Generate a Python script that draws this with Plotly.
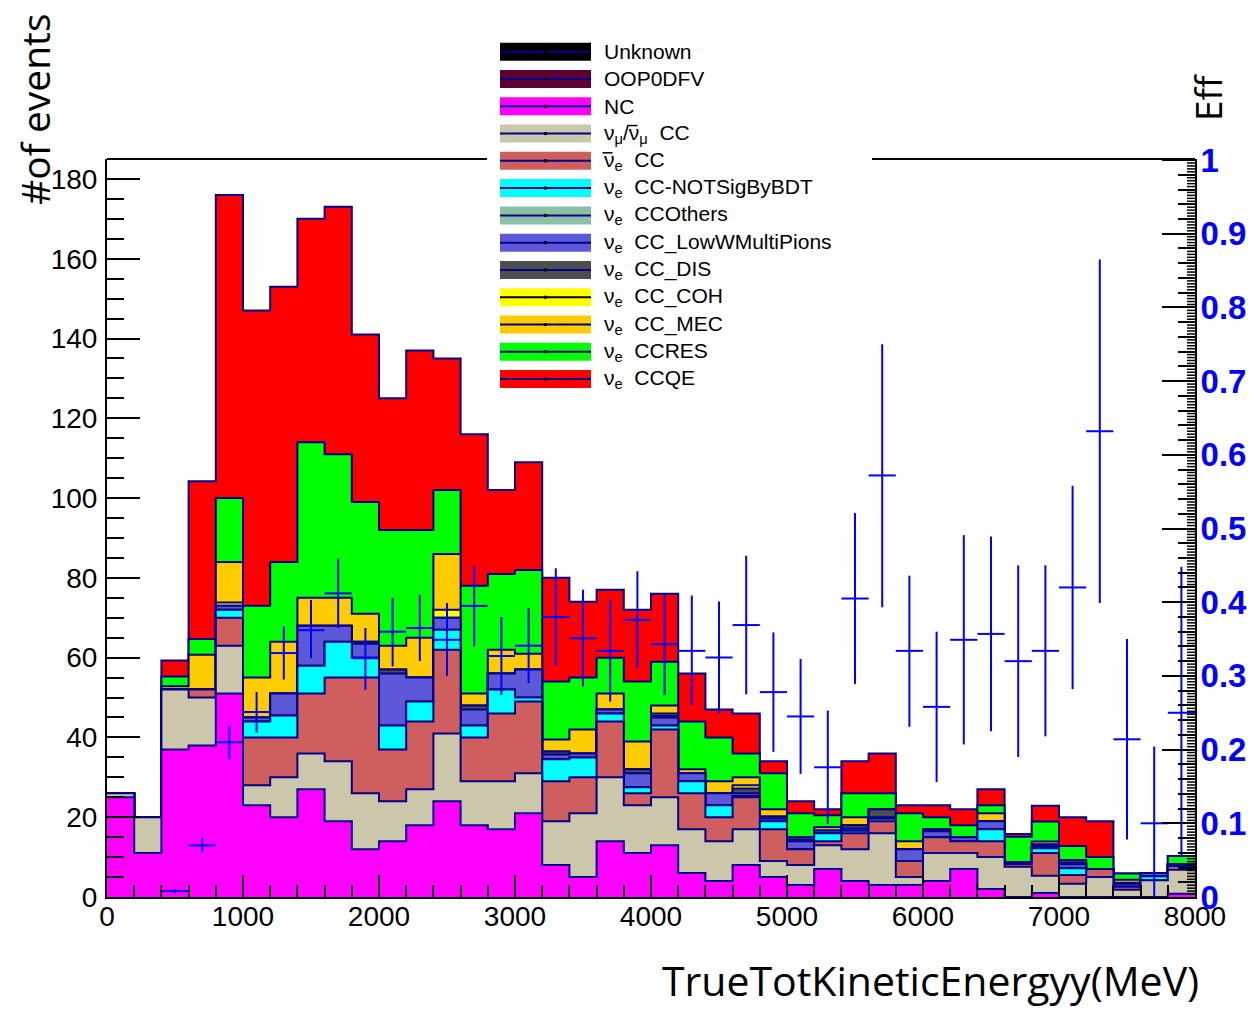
import numpy as np
import plotly.graph_objects as go

# ---------------- data ----------------
bin_edges = list(range(0, 8001, 200))  # 40 bins of 200 MeV

nc = [25, 11, 37, 38, 51, 23, 20, 27, 19, 12, 14, 18, 24, 18, 17, 21, 8, 5, 14, 11,
      13, 6, 4, 8, 5, 3, 7, 4, 3, 3, 4, 7, 2, 0, 1, 0, 0, 0, 0, 0.8]
numu_cc = [1, 9, 15, 12, 12, 5, 10, 9, 15, 14, 10, 9, 17, 11, 12, 10, 11, 16, 16, 12,
           12, 11, 10, 9, 4, 5, 6, 8, 13, 2, 7, 4, 8, 7.6, 4.3, 3.3, 5, 1.8, 4.2, 6]
nuebar_cc = [0, 0, 0, 2, 7, 12, 10, 15, 21, 29, 13, 17, 21, 11, 17, 18, 10, 9, 14, 3,
             17, 9, 6, 8, 8, 4, 1, 4, 3, 4, 4, 3, 4, 0.7, 5.7, 2.2, 2, 0.8, 0, 1]
nue_notsig = [0, 0, 0, 0, 2, 4, 5.5, 7, 9, 5, 6, 5, 5, 3, 6, 1, 5.5, 5, 2, 1.5,
              1, 3, 3, 0.3, 2, 0, 2, 0.6, 0.6, 0, 0, 0, 3, 0, 1.2, 1.7, 0, 0, 1, 0]
nue_others = [0] * 40
nue_lowwmp = [0, 0, 0, 0, 1, 1, 5.5, 10, 4, 3.5, 13, 6, 3, 4, 4, 7, 1.2, 1, 1, 3.5,
              2, 2, 3, 0.7, 0.7, 2, 0.7, 0.6, 0.4, 3, 1.5, 1, 2, 0, 0.5, 1, 0, 0.7, 0.8, 0.5]
nue_dis = [0, 0, 0, 0, 0, 0, 0, 0, 0, 0.5, 1, 0, 0, 1, 0, 0, 0.8, 0, 0, 1,
           0.5, 0, 0, 1.2, 0.5, 0.5, 0, 0.8, 2, 0, 0.5, 0, 0, 0, 0, 0, 0, 0, 0, 0]
nue_coh = [0, 0, 0, 0, 0.8, 0, 0, 0, 0, 0, 0, 0, 2, 0, 0, 0, 0, 0, 0, 0,
           0.5, 0, 0, 0.8, 0, 0.5, 0.8, 0, 0, 0, 0, 0, 0, 0, 0.5, 0.5, 0, 0.3, 0, 0]
nue_mec = [0, 0, 0.8, 8.7, 10.2, 10, 13, 7, 7, 7, 6, 10, 14, 3, 6, 4, 3, 6, 4, 7,
           2, 1, 3, 2, 1.8, 0, 0, 2, 0, 2, 0, 0, 2, 0.5, 0.7, 0.6, 0, 0.7, 0, 0]
nue_res = [0, 0, 2.5, 4, 16, 18, 20, 39, 36, 28, 29, 27, 16, 27, 19, 21, 14.5, 13, 9, 15,
           11, 12, 11, 6, 9, 6, 3, 6, 4, 7, 3, 3, 2, 6.3, 5, 3.5, 3, 1.6, 0, 2]
nue_qe = [0, 0, 4, 39.5, 76, 74, 69, 56, 62, 42, 33, 45, 33, 38, 21, 27, 26, 19, 17, 18,
          17, 12, 7, 10, 3, 3, 1.5, 8, 10, 2, 3, 4, 4, 0.7, 4, 7.2, 9, 0, 0, 0]

# efficiency (right axis), None = no point
eff = [None, None, 0.008, 0.07, 0.21, 0.251, 0.331, 0.362, 0.412, 0.324,
       0.36, 0.365, 0.349, 0.395, 0.327, 0.341, 0.38, 0.351, 0.334, 0.376,
       0.343, 0.334, 0.325, 0.369, 0.278, 0.245, 0.176, 0.405, 0.572, 0.334,
       0.258, 0.349, 0.357, 0.32, 0.334, 0.42, 0.632, 0.214, 0.1, 0.25]
eff_err_up = [0, 0, 0.003, 0.01, 0.022, 0.027, 0.036, 0.041, 0.047, 0.041,
              0.046, 0.045, 0.05, 0.054, 0.053, 0.051, 0.066, 0.066, 0.069, 0.066,
              0.069, 0.075, 0.076, 0.094, 0.081, 0.078, 0.077, 0.116, 0.178, 0.102,
              0.102, 0.142, 0.132, 0.13, 0.116, 0.138, 0.233, 0.136, 0.104, 0.198]
eff_err_down = [0, 0, 0.003, 0.01, 0.023, 0.028, 0.036, 0.038, 0.047, 0.043,
                0.047, 0.045, 0.049, 0.055, 0.053, 0.051, 0.066, 0.065, 0.069, 0.065,
                0.069, 0.074, 0.076, 0.094, 0.081, 0.078, 0.077, 0.116, 0.179, 0.103,
                0.102, 0.142, 0.132, 0.13, 0.116, 0.138, 0.233, 0.136, 0.1, 0.195]

components = [  # stacking order bottom -> top
    ("NC", nc, "#ff00ff"),
    ("numu", numu_cc, "#ccc6aa"),
    ("nuebar", nuebar_cc, "#cf5f5f"),
    ("notsig", nue_notsig, "#00ffff"),
    ("others", nue_others, "#8cc0a4"),
    ("loww", nue_lowwmp, "#5c58d8"),
    ("dis", nue_dis, "#4d4d4d"),
    ("coh", nue_coh, "#ffff00"),
    ("mec", nue_mec, "#ffcc00"),
    ("res", nue_res, "#00ff00"),
    ("qe", nue_qe, "#ff0000"),
]

SP = "\u00a0 "
legend_labels = [
    ("Unknown", "#000000", "#00008b"),
    ("OOP0DFV", "#5c0033", "#00008b"),
    ("NC", "#ff00ff", "#00008b"),
    ("ν<sub>μ</sub>/ν<sub>μ</sub>" + SP + "CC", "#ccc6aa", "#00008b"),
    ("ν<sub>e</sub>" + SP + "CC", "#cf5f5f", "#00008b"),
    ("ν<sub>e</sub>" + SP + "CC-NOTSigByBDT", "#00ffff", "#00008b"),
    ("ν<sub>e</sub>" + SP + "CCOthers", "#8cc0a4", "#00008b"),
    ("ν<sub>e</sub>" + SP + "CC_LowWMultiPions", "#5c58d8", "#00008b"),
    ("ν<sub>e</sub>" + SP + "CC_DIS", "#4d4d4d", "#00008b"),
    ("ν<sub>e</sub>" + SP + "CC_COH", "#ffff00", "#000000"),
    ("ν<sub>e</sub>" + SP + "CC_MEC", "#ffcc00", "#00008b"),
    ("ν<sub>e</sub>" + SP + "CCRES", "#00ff00", "#00008b"),
    ("ν<sub>e</sub>" + SP + "CCQE", "#ff0000", "#00008b"),
]
# (legend row, x start, x end) of the bars drawn over antineutrino symbols
antinu_bars = [(3, 627.5, 637.5), (4, 602.5, 612.5)]

# ---------------- geometry (page pixels; the page body has an 8px margin) ----------------
OFF = 8
W, H = 1259 - 2 * OFF, 1015 - 2 * OFF
L, R, T, B = 107, 1195, 159, 897  # plot frame in page pixels


def px2x(px):
    return (px - L) / (R - L)


def py2y(py):
    return (B - py) / (B - T)


fig = go.Figure()

edges = np.array(bin_edges, dtype=float)
cum = np.zeros(40)
cums = []
for name, vals, col in components:
    cum = cum + np.array(vals, dtype=float)
    cums.append((name, cum.copy(), col))

OUT = "#00008b"
for name, c, col in reversed(cums):
    yy = np.append(c, c[-1])
    fig.add_trace(go.Scatter(
        x=edges, y=yy, mode="lines", line=dict(shape="hv", color=OUT, width=2),
        fill="tozeroy", fillcolor=col, showlegend=False, hoverinfo="skip"))

centers = (edges[:-1] + edges[1:]) / 2
fig.add_trace(go.Scatter(
    x=centers, y=eff, yaxis="y2", mode="markers",
    marker=dict(size=1, color="#0000ff"),
    error_y=dict(type="data", symmetric=False, array=eff_err_up, arrayminus=eff_err_down,
                 color="#0000ff", thickness=2, width=0),
    error_x=dict(type="constant", value=100, color="#0000ff", thickness=2, width=0),
    showlegend=False, hoverinfo="skip"))

tickfont = dict(family="Liberation Sans, Arial, sans-serif", size=28, color="black")

fig.update_layout(
    width=W, height=H, autosize=False,
    margin=dict(l=L - OFF, r=(1259 - OFF) - R, t=T - OFF, b=(1015 - OFF) - B, pad=0,
                autoexpand=False),
    paper_bgcolor="white", plot_bgcolor="white",
    showlegend=False,
    xaxis=dict(range=[0, 8000], tick0=0, dtick=1000, ticks="inside", ticklen=22, tickwidth=2,
               tickcolor="black", showline=True, linecolor="black", linewidth=2,
               showgrid=False, zeroline=False, tickfont=tickfont, ticklabelstandoff=-7,
               automargin=False,
               minor=dict(dtick=200, ticks="inside", ticklen=12, tickwidth=2, tickcolor="black",
                          showgrid=False)),
    yaxis=dict(range=[0, 185], tick0=0, dtick=20, ticks="inside", ticklen=33, tickwidth=2,
               tickcolor="black", showline=True, linecolor="black", linewidth=2,
               showgrid=False, zeroline=False, tickfont=tickfont, ticklabelstandoff=2,
               automargin=False,
               minor=dict(dtick=5, ticks="inside", ticklen=17, tickwidth=2, tickcolor="black",
                          showgrid=False)),
    yaxis2=dict(range=[0, 1.0014], overlaying="y", side="right", anchor="x",
                tick0=0, dtick=0.1, ticks="inside", ticklen=33, tickwidth=2, tickcolor="black",
                showline=True, linecolor="black", linewidth=2, showgrid=False, zeroline=False,
                tickfont=dict(family="Liberation Sans, Arial, sans-serif", size=33,
                              color="#0000ff", weight="bold"),
                ticklabelstandoff=-3, automargin=False,
                minor=dict(dtick=0.02, ticks="inside", ticklen=17, tickwidth=2,
                           tickcolor="black", showgrid=False)),
)

shapes = []
# fine ticks on right axis
for k in range(0, 251):
    if k % 5 == 0:
        continue
    v = k * 0.004
    shapes.append(dict(type="line", xref="paper", yref="y2", x0=px2x(R - 8), x1=px2x(R),
                       y0=v, y1=v, line=dict(color="black", width=1.5), layer="above"))
# top frame line, interrupted by the legend
shapes.append(dict(type="line", xref="paper", yref="paper", x0=0, x1=px2x(487), y0=1, y1=1,
                   line=dict(color="black", width=2)))
shapes.append(dict(type="line", xref="paper", yref="paper", x0=px2x(872), x1=1, y0=1, y1=1,
                   line=dict(color="black", width=2)))

annotations = []
ly0, ldy = 51.7, 27.28
for i, (lab, fcol, lcol) in enumerate(legend_labels):
    cy = ly0 + i * ldy
    shapes.append(dict(type="rect", xref="paper", yref="paper",
                       x0=px2x(500), x1=px2x(591), y0=py2y(cy + 9), y1=py2y(cy - 9),
                       fillcolor=fcol, line=dict(width=0), layer="above"))
    shapes.append(dict(type="line", xref="paper", yref="paper",
                       x0=px2x(500), x1=px2x(591), y0=py2y(cy), y1=py2y(cy),
                       line=dict(color=lcol, width=2), layer="above"))
    shapes.append(dict(type="rect", xref="paper", yref="paper",
                       x0=px2x(544), x1=px2x(547), y0=py2y(cy + 1.5), y1=py2y(cy - 1.5),
                       fillcolor="black", line=dict(width=0), layer="above"))
    annotations.append(dict(xref="paper", yref="paper", x=px2x(602), y=py2y(cy),
                            xanchor="left", yanchor="middle", showarrow=False, text=lab,
                            font=dict(family="Liberation Sans, Arial, sans-serif", size=21,
                                      color="black")))
for row, xa, xb in antinu_bars:
    cy = ly0 + row * ldy
    shapes.append(dict(type="line", xref="paper", yref="paper",
                       x0=px2x(xa), x1=px2x(xb), y0=py2y(cy - 8), y1=py2y(cy - 8),
                       line=dict(color="black", width=1.5), layer="above"))

annotations.append(dict(xref="paper", yref="paper", x=px2x(35), y=py2y(109),
                        xanchor="center", yanchor="middle", showarrow=False, textangle=-90,
                        text="#of events",
                        font=dict(family="Open Sans, sans-serif", size=39, color="black")))
annotations.append(dict(xref="paper", yref="paper", x=px2x(1207), y=py2y(97),
                        xanchor="center", yanchor="middle", showarrow=False, textangle=-90,
                        text="Eff",
                        font=dict(family="Open Sans, sans-serif", size=37, color="black")))
annotations.append(dict(xref="paper", yref="paper", x=px2x(1201), y=py2y(980),
                        xanchor="right", yanchor="middle", showarrow=False,
                        text="TrueTotKineticEnergyy(MeV)",
                        font=dict(family="Open Sans, sans-serif", size=41, color="black")))

fig.update_layout(shapes=shapes, annotations=annotations)
fig.write_html("out.html")
